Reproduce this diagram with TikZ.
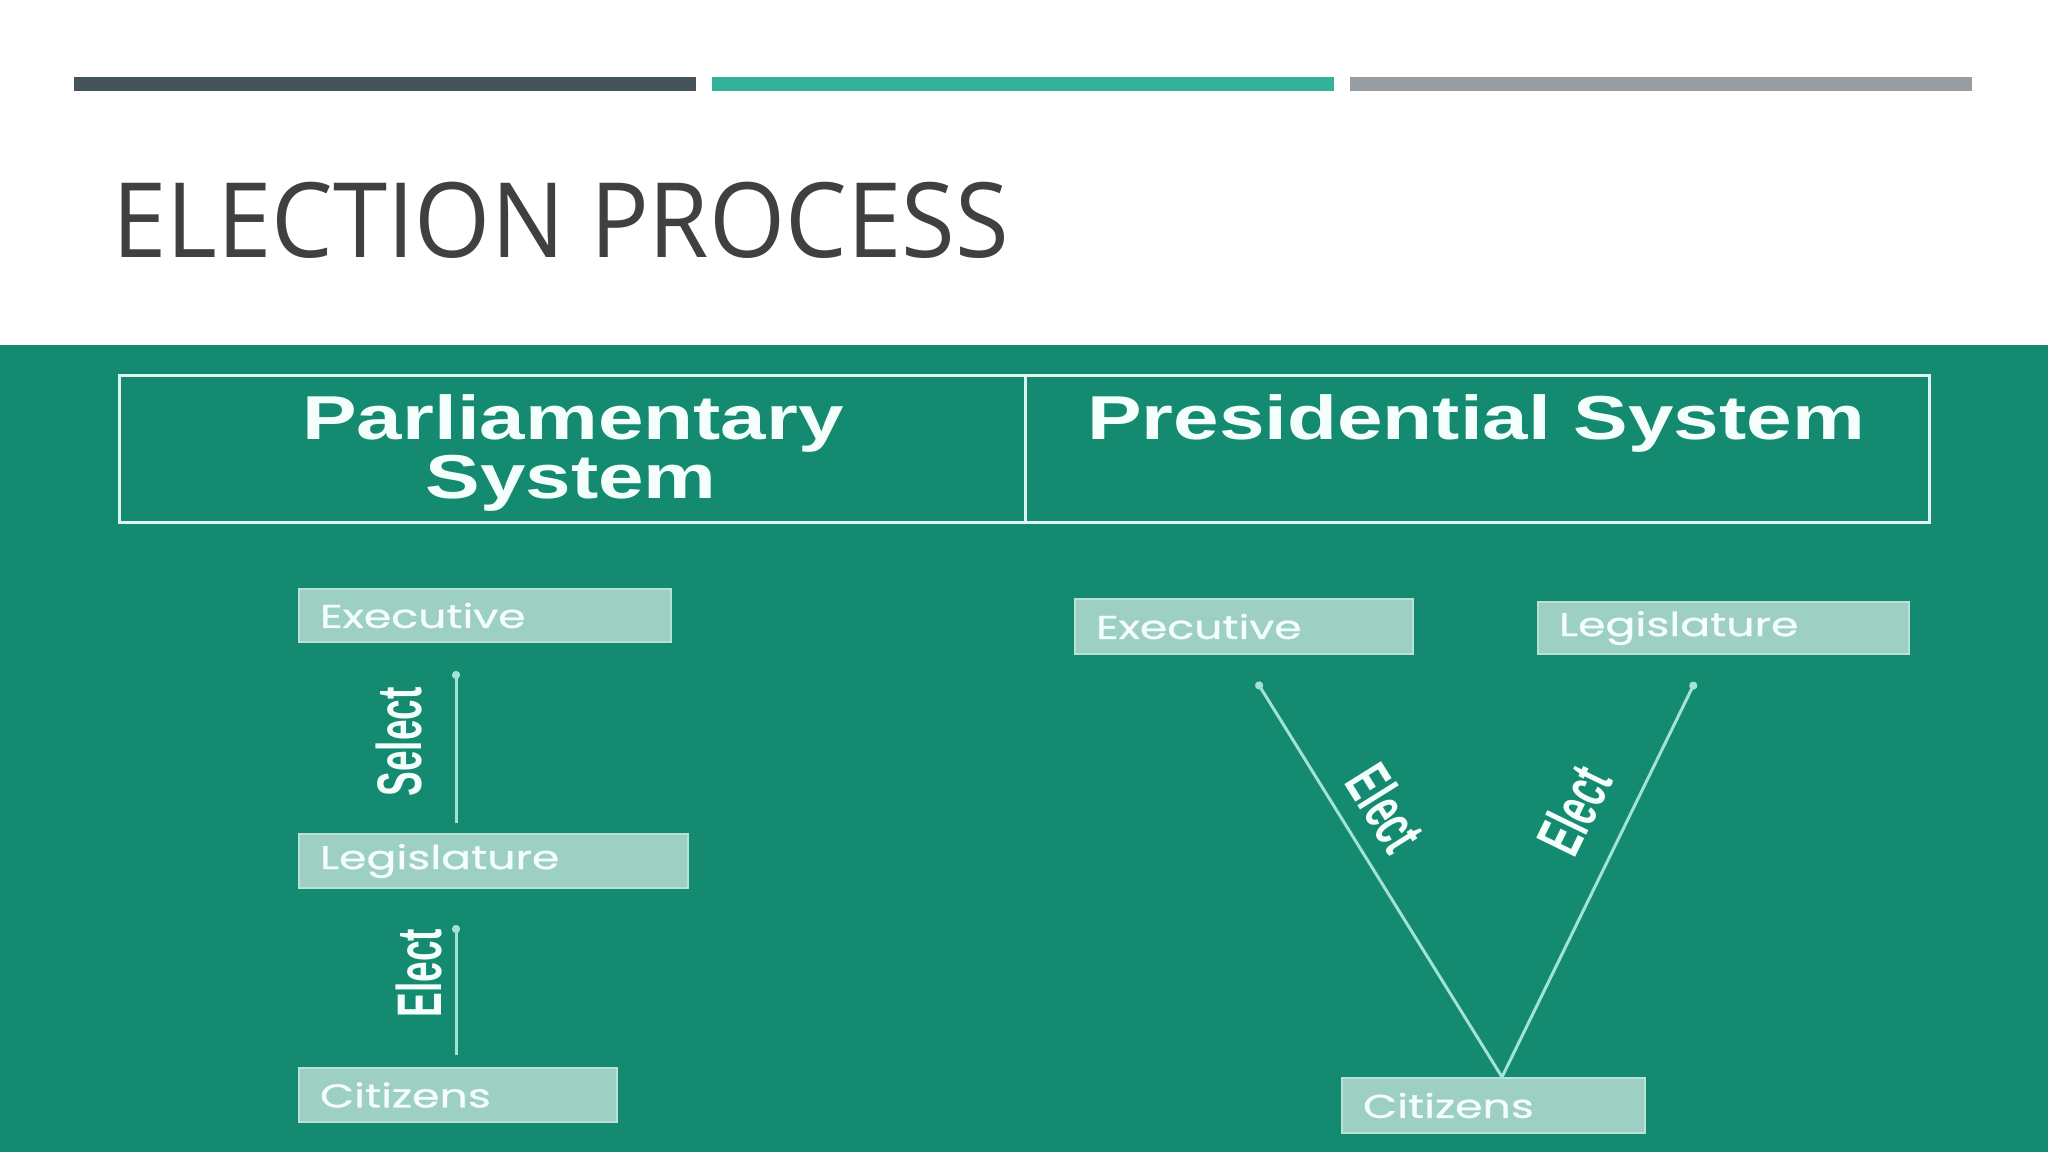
\documentclass[tikz,border=0pt]{standalone}
\usepackage{fontspec}
\usepackage{graphicx}
\usetikzlibrary{arrows.meta,calc}
\setmainfont{Open Sans}
\newfontfamily\hdfont{Liberation Sans}
\newfontfamily\bxfont[FakeBold=0.7]{Poppins}
\definecolor{bggreen}{HTML}{148B71}
\definecolor{boxfill}{HTML}{9DCFC3}
\definecolor{boxedge}{HTML}{B8E2D8}
\definecolor{linecol}{HTML}{A3E3D3}
\definecolor{framecol}{HTML}{DDF6EF}
\definecolor{txtwhite}{HTML}{F4FFFC}
\definecolor{bardark}{HTML}{45545A}
\definecolor{barteal}{HTML}{33B39A}
\definecolor{bargrey}{HTML}{969EA4}
\definecolor{titlecol}{HTML}{404040}
\newcommand\bxt[1]{\scalebox{1.34}[1]{\bxfont #1}}
\newcommand\hdt[1]{\scalebox{1.32}[1]{\hdfont\bfseries #1}}
\newcommand\lbt[1]{\scalebox{1}[1.7]{\hdfont\bfseries #1}}
\tikzset{
  bx/.style={fill=boxfill, draw=boxedge, line width=1pt, anchor=north west,
    inner ysep=0pt, inner xsep=10.5pt, align=left, text=txtwhite, font=\fontsize{16.5}{18}\selectfont},
  conn/.style={draw=linecol, line width=1.5pt, -{Circle[length=4pt]}},
  lbl/.style={text=txtwhite, inner sep=0pt, font=\fontsize{18.5}{20}\selectfont},
  hd/.style={text=txtwhite, inner sep=0pt, font=\fontsize{31}{36}\selectfont, align=center}
}
\begin{document}
\begin{tikzpicture}[x=0.5pt,y=-0.5pt]
\useasboundingbox (0,0) rectangle (2048,1152);
\fill[white] (0,0) rectangle (2048,345);
\fill[bggreen] (0,345) rectangle (2048,1152);
% top bars
\fill[bardark] (74,77) rectangle (696,91);
\fill[barteal] (712,77) rectangle (1334,91);
\fill[bargrey] (1350,77) rectangle (1972,91);
% title
\node[anchor=base west, inner sep=0pt, text=titlecol, font=\fontsize{52}{60}\selectfont] (title) at (112,257) {\scalebox{0.94}[1]{ELECTION PROCESS}};
% header table
\draw[framecol, line width=1.5pt] (119,375) rectangle (1929,522);
\draw[framecol, line width=1.5pt] (1025,375) -- (1025,522);
\node[hd, anchor=base] (parl) at (573,439) {\hdt{Parliamentary}};
\node[hd, anchor=base] (parl2) at (571,498) {\hdt{System}};
\node[hd, anchor=base] (pres) at (1476,439) {\hdt{Presidential System}};
% left column boxes
\node[bx, minimum width=186pt, minimum height=26.5pt, text width=165pt] (lexec) at (298,588) {\bxt{Executive}};
\node[bx, minimum width=194.5pt, minimum height=27pt, text width=173.5pt] (lleg) at (298,833) {\bxt{Legislature}};
\node[bx, minimum width=159pt, minimum height=27pt, text width=138pt] (lcit) at (298,1067) {\bxt{Citizens}};
% right column boxes
\node[bx, minimum width=169pt, minimum height=27.5pt, text width=148pt] (rexec) at (1074,598) {\bxt{Executive}};
\node[bx, minimum width=185.5pt, minimum height=26pt, text width=164.5pt] (rleg) at (1537,601) {\bxt{Legislature}};
\node[bx, minimum width=151.5pt, minimum height=27.5pt, text width=130.5pt] (rcit) at (1341,1077) {\bxt{Citizens}};
% left connectors
\coordinate (lx) at (456,0);
\draw[conn] ($(lleg.north -| lx)+(0,-10)$) -- ($(lexec.south -| lx)+(0,28)$);
\draw[conn] ($(lcit.north -| lx)+(0,-12)$) -- ($(lleg.south -| lx)+(0,36)$);
\node[lbl, rotate=90] (lsel) at (399,742) {\lbt{Select}};
\node[lbl, rotate=90] (lel) at (419,973) {\lbt{Elect}};
% right connectors
\coordinate (rbase) at ($(rcit.north west)+(161,0)$);
\coordinate (rexend) at ($(rexec.south west)+(183,27)$);
\coordinate (rlgend) at ($(rleg.south west)+(158,27)$);
\draw[conn] (rbase) -- (rexend);
\draw[conn] (rbase) -- (rlgend);
\node[lbl, rotate=-58] (rel1) at (1386,808) {\lbt{Elect}};
\node[lbl, rotate=64] (rel2) at (1574,810) {\lbt{Elect}};
\end{tikzpicture}
\end{document}
